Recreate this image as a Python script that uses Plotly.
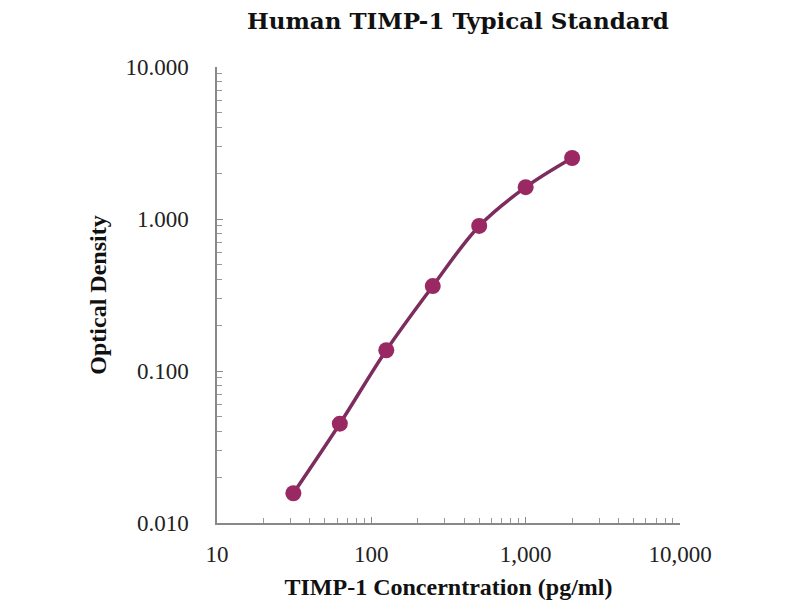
import plotly.graph_objects as go

# standard curve points
conc = [31.25, 62.5, 125, 250, 500, 1000, 2000]
od = [0.0157, 0.045, 0.137, 0.362, 0.90, 1.62, 2.52]

x_ticks = [10, 100, 1000, 10000]
x_labels = ["10", "100", "1,000", "10,000"]
y_ticks = [0.01, 0.1, 1, 10]
y_labels = ["0.010", "0.100", "1.000", "10.000"]

x_minor = [m * 10 ** d for d in range(1, 4) for m in range(2, 10)]
y_minor = [m * 10.0 ** d for d in range(-2, 1) for m in range(2, 10)]

fig = go.Figure()
fig.add_trace(go.Scatter(
    x=conc, y=od, mode="lines+markers",
    line=dict(color="#7d2d5d", width=3.5, shape="spline"),
    marker=dict(color="#9a2862", size=16),
    showlegend=False,
))

tick_font = dict(family="Liberation Serif", size=23, color="#222")
title_font = dict(family="Liberation Serif", size=24, color="#111")
fig.update_layout(
    width=800, height=600,
    plot_bgcolor="white", paper_bgcolor="white",
    margin=dict(l=209, r=128, t=59, b=85),
    title=dict(text="<b>Human TIMP-1 Typical Standard</b>", x=0.5625, xanchor="center",
               y=0.978, yanchor="middle",
               font=dict(family="DejaVu Serif", size=23, color="#111")),
    xaxis=dict(
        type="log", range=[1, 4], tickvals=x_ticks, ticktext=x_labels,
        showline=True, linecolor="#888", linewidth=1.5, showgrid=False, zeroline=False,
        ticks="inside", ticklen=6, tickcolor="#888", tickfont=tick_font,
        ticklabelstandoff=10,
        minor=dict(tickmode="array", tickvals=x_minor, ticks="inside", ticklen=5,
                   tickcolor="#999", showgrid=False),
        title=dict(text="<b>TIMP-1 Concerntration (pg/ml)</b>", font=title_font, standoff=12),
    ),
    yaxis=dict(
        type="log", range=[-2, 1], tickvals=y_ticks, ticktext=y_labels,
        showline=True, linecolor="#888", linewidth=1.5, showgrid=False, zeroline=False,
        ticks="inside", ticklen=6, tickcolor="#888", tickfont=tick_font,
        ticklabelstandoff=22,
        minor=dict(tickmode="array", tickvals=y_minor, ticks="inside", ticklen=5,
                   tickcolor="#999", showgrid=False),
        title=dict(text="<b>Optical Density</b>", font=title_font, standoff=12),
    ),
)

fig.write_html("out.html")
